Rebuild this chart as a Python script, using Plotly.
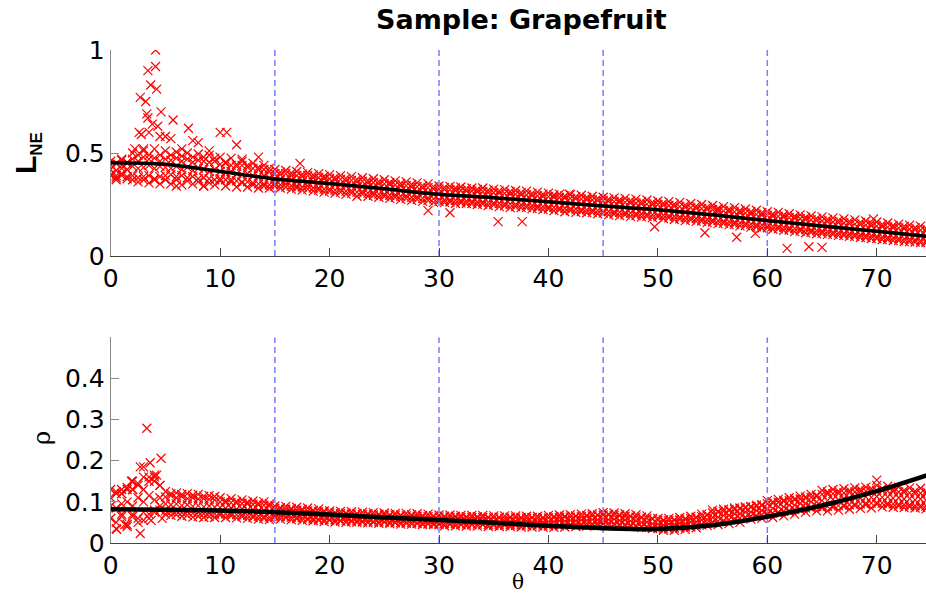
import plotly.graph_objects as go

# ---------------- data ----------------
theta = [0, 0.5, 1, 1.5, 2, 2.5, 3, 3.5, 4, 4.5,
         5, 5.5, 6, 6.5, 7, 7.5, 8, 8.5, 9, 9.5,
         10, 10.5, 11, 11.5, 12, 12.5, 13, 13.5, 14, 14.5,
         15, 15.5, 16, 16.5, 17, 17.5, 18, 18.5, 19, 19.5,
         20, 20.5, 21, 21.5, 22, 22.5, 23, 23.5, 24, 24.5,
         25, 25.5, 26, 26.5, 27, 27.5, 28, 28.5, 29, 29.5,
         30, 30.5, 31, 31.5, 32, 32.5, 33, 33.5, 34, 34.5,
         35, 35.5, 36, 36.5, 37, 37.5, 38, 38.5, 39, 39.5,
         40, 40.5, 41, 41.5, 42, 42.5, 43, 43.5, 44, 44.5,
         45, 45.5, 46, 46.5, 47, 47.5, 48, 48.5, 49, 49.5,
         50, 50.5, 51, 51.5, 52, 52.5, 53, 53.5, 54, 54.5,
         55, 55.5, 56, 56.5, 57, 57.5, 58, 58.5, 59, 59.5,
         60, 60.5, 61, 61.5, 62, 62.5, 63, 63.5, 64, 64.5,
         65, 65.5, 66, 66.5, 67, 67.5, 68, 68.5, 69, 69.5,
         70, 70.5, 71, 71.5, 72, 72.5, 73, 73.5, 74, 74.5,
         75]

# L_NE, five repeat measurements at each angle
L_run1 = [.445, .45, .44, .455, .47, .46, .48, .47, .475, .46,
          .47, .465, .475, .46, .47, .455, .465, .46, .455, .46,
          .445, .45, .44, .435, .44, .43, .425, .42, .42, .41,
          .40, .395, .40, .39, .39, .385, .39, .38, .38, .375,
          .375, .37, .372, .365, .367, .36, .362, .355, .357, .35,
          .35, .347, .345, .34, .342, .335, .337, .33, .332, .325,
          .325, .322, .322, .318, .318, .315, .315, .312, .312, .308,
          .308, .305, .304, .30, .30, .297, .296, .293, .292, .289,
          .288, .285, .284, .281, .28, .277, .276, .273, .272, .269,
          .268, .265, .264, .261, .26, .257, .256, .253, .252, .249,
          .25, .246, .245, .241, .24, .236, .235, .231, .23, .226,
          .225, .221, .219, .216, .214, .21, .208, .204, .202, .199,
          .197, .193, .192, .188, .186, .182, .181, .177, .175, .172,
          .17, .167, .165, .162, .16, .157, .155, .152, .15, .147,
          .145, .142, .14, .137, .135, .132, .13, .127, .125, .122,
          .12]
L_run2 = [.395, .39, .40, .385, .39, .38, .385, .39, .375, .385,
          .39, .395, .385, .39, .38, .385, .375, .38, .375, .37,
          .375, .37, .37, .365, .36, .36, .355, .35, .35, .345,
          .35, .345, .35, .34, .34, .335, .34, .33, .33, .325,
          .325, .32, .322, .315, .317, .31, .312, .305, .307, .30,
          .30, .295, .297, .29, .292, .285, .287, .28, .282, .277,
          .275, .272, .272, .27, .268, .266, .265, .262, .262, .26,
          .258, .256, .254, .252, .25, .248, .246, .244, .242, .24,
          .238, .236, .234, .232, .23, .228, .226, .224, .222, .22,
          .218, .216, .214, .212, .21, .208, .206, .204, .202, .20,
          .20, .197, .195, .192, .19, .187, .185, .182, .18, .177,
          .175, .172, .169, .167, .164, .161, .158, .155, .152, .15,
          .147, .144, .142, .139, .136, .133, .131, .128, .125, .123,
          .12, .118, .115, .113, .11, .108, .105, .103, .10, .098,
          .095, .093, .09, .088, .085, .083, .08, .078, .075, .073,
          .07]
L_run3 = [.42, .415, .425, .42, .435, .425, .43, .44, .425, .435,
          .43, .425, .435, .42, .43, .415, .425, .42, .41, .42,
          .41, .405, .41, .40, .395, .40, .39, .385, .39, .38,
          .375, .37, .368, .37, .36, .365, .358, .36, .352, .355,
          .35, .345, .347, .34, .342, .335, .337, .33, .332, .325,
          .325, .32, .322, .315, .317, .31, .312, .305, .307, .30,
          .30, .296, .298, .293, .294, .29, .291, .286, .288, .284,
          .283, .28, .28, .276, .276, .272, .272, .268, .268, .264,
          .263, .26, .26, .256, .256, .252, .252, .248, .248, .244,
          .243, .24, .24, .236, .236, .232, .232, .228, .228, .224,
          .225, .221, .22, .216, .215, .211, .21, .206, .205, .201,
          .20, .196, .195, .191, .19, .185, .184, .179, .178, .174,
          .172, .168, .167, .163, .161, .157, .156, .152, .15, .147,
          .145, .142, .14, .137, .135, .132, .13, .127, .125, .122,
          .12, .117, .115, .112, .11, .107, .105, .102, .10, .097,
          .095]
L_run4 = [.46, .38, .465, .375, .50, .36, .51, .355, .52, .35,
          .51, .35, .505, .345, .50, .35, .495, .34, .49, .345,
          .48, .34, .475, .335, .46, .335, .45, .33, .44, .33,
          .42, .33, .415, .325, .41, .32, .405, .315, .40, .31,
          .395, .305, .39, .30, .385, .29, .38, .29, .375, .285,
          .37, .28, .365, .275, .36, .27, .355, .265, .35, .26,
          .34, .26, .338, .255, .335, .255, .33, .25, .33, .245,
          .325, .24, .322, .235, .318, .235, .315, .23, .31, .225,
          .305, .22, .30, .215, .298, .212, .295, .21, .29, .205,
          .285, .20, .282, .196, .28, .192, .276, .19, .272, .186,
          .267, .182, .264, .177, .26, .172, .255, .168, .25, .162,
          .245, .157, .24, .152, .235, .146, .228, .14, .222, .135,
          .215, .13, .212, .125, .205, .118, .20, .113, .195, .108,
          .19, .105, .185, .10, .18, .095, .175, .09, .17, .085,
          .165, .08, .16, .075, .155, .07, .15, .068, .145, .065,
          .14]
L_run5 = [.39, .45, .39, .45, .37, .49, .37, .49, .37, .49,
          .37, .49, .37, .485, .365, .48, .36, .48, .355, .475,
          .365, .455, .36, .445, .355, .44, .345, .43, .34, .425,
          .34, .407, .335, .403, .33, .397, .325, .393, .32, .387,
          .315, .382, .31, .377, .305, .372, .30, .367, .295, .362,
          .29, .357, .285, .352, .28, .347, .275, .342, .27, .337,
          .265, .333, .262, .33, .258, .327, .255, .323, .252, .32,
          .248, .316, .244, .312, .24, .308, .236, .304, .232, .30,
          .228, .296, .224, .292, .22, .288, .216, .284, .212, .28,
          .208, .276, .204, .272, .20, .268, .196, .264, .192, .26,
          .19, .257, .185, .252, .18, .247, .175, .242, .17, .237,
          .165, .232, .159, .227, .154, .221, .148, .215, .142, .21,
          .137, .204, .132, .199, .126, .193, .121, .188, .115, .183,
          .11, .178, .105, .173, .10, .168, .095, .163, .09, .158,
          .085, .153, .08, .148, .075, .143, .07, .138, .065, .133,
          .06]
L_out_theta = [2.2, 2.6, 2.7, 2.8, 3.0, 3.2, 3.3, 3.4, 3.4, 3.5,
               3.65, 3.8, 4.1, 4.1, 4.2, 4.3, 4.5, 4.6, 5.0, 5.5,
               5.7, 6.5, 7.1, 7.5, 8.0, 9.0, 10.0, 10.6, 11.5, 12.0,
               13.5, 17.3, 1.0, 0.5, 6.0, 8.5,
               35.4, 37.6, 41.9, 49.7, 54.3, 55.3, 57.2, 58.9, 61.8, 63.8,
               65.0, 69.7, 29.0, 31.0]
L_out = [0.52, 0.60, 0.77, 0.59, 0.52, 0.75, 0.69, 0.67, 0.90, 0.60,
         0.83, 0.64, 1.0, 0.92, 0.81, 0.63, 0.58, 0.70, 0.58, 0.57,
         0.66, 0.52, 0.62, 0.56, 0.55, 0.51, 0.60, 0.60, 0.54, 0.47,
         0.48, 0.45, 0.47, 0.37, 0.34, 0.34,
         0.167, 0.167, 0.30, 0.142, 0.113, 0.22, 0.091, 0.11, 0.037, 0.045,
         0.042, 0.18, 0.22, 0.21]

# rho, five repeat measurements at each angle
rho_run1 = [.11, .125, .12, .13, .13, .14, .13, .15, .16, .14,
            .112, .115, .11, .113, .108, .11, .107, .108, .106, .105,
            .10, .099, .098, .097, .096, .095, .094, .093, .092, .09,
            .084, .083, .082, .081, .08, .079, .078, .077, .076, .075,
            .073, .072, .071, .071, .07, .07, .069, .069, .068, .068,
            .068, .067, .067, .066, .066, .066, .065, .065, .064, .064,
            .063, .063, .063, .063, .062, .062, .062, .062, .062, .061,
            .061, .061, .06, .061, .061, .06, .06, .061, .06, .06,
            .061, .062, .062, .063, .063, .064, .064, .065, .066, .067,
            .068, .068, .067, .066, .065, .064, .063, .061, .06, .058,
            .055, .054, .054, .055, .056, .057, .059, .061, .064, .067,
            .073, .075, .077, .079, .081, .083, .085, .087, .089, .091,
            .095, .097, .099, .101, .103, .105, .107, .109, .111, .113,
            .118, .119, .12, .121, .122, .123, .124, .125, .126, .127,
            .128, .127, .126, .125, .124, .123, .122, .121, .121, .12,
            .12]
rho_run2 = [.06, .05, .07, .045, .065, .06, .055, .07, .075, .08,
            .078, .076, .077, .074, .076, .072, .074, .071, .072, .07,
            .072, .071, .07, .069, .068, .067, .066, .065, .064, .063,
            .066, .065, .064, .063, .062, .061, .06, .059, .058, .057,
            .057, .056, .055, .055, .054, .054, .053, .053, .052, .052,
            .052, .051, .051, .05, .05, .05, .049, .049, .048, .048,
            .047, .047, .047, .047, .046, .046, .046, .046, .046, .045,
            .045, .045, .045, .045, .045, .044, .044, .044, .044, .044,
            .043, .044, .044, .045, .045, .046, .046, .047, .047, .048,
            .048, .048, .047, .046, .045, .044, .043, .041, .04, .038,
            .037, .036, .036, .037, .038, .039, .041, .043, .046, .049,
            .051, .053, .055, .057, .059, .061, .063, .065, .067, .069,
            .071, .073, .075, .077, .079, .081, .083, .085, .087, .089,
            .088, .089, .09, .091, .092, .093, .094, .095, .096, .097,
            .098, .097, .096, .095, .094, .093, .092, .091, .091, .09,
            .09]
rho_run3 = [.09, .085, .095, .10, .09, .11, .10, .115, .105, .11,
            .095, .093, .095, .091, .093, .089, .091, .088, .09, .087,
            .086, .084, .085, .082, .083, .08, .081, .078, .079, .076,
            .075, .073, .074, .071, .072, .069, .07, .067, .068, .065,
            .065, .063, .064, .062, .063, .061, .062, .06, .061, .059,
            .06, .058, .06, .057, .059, .057, .058, .056, .057, .055,
            .055, .054, .056, .054, .055, .053, .055, .053, .054, .052,
            .053, .052, .054, .052, .053, .051, .053, .051, .052, .051,
            .052, .052, .054, .053, .055, .054, .056, .055, .057, .056,
            .058, .057, .058, .055, .056, .053, .054, .05, .051, .047,
            .046, .044, .046, .045, .048, .047, .051, .051, .056, .057,
            .062, .063, .067, .067, .071, .071, .075, .075, .079, .079,
            .083, .084, .088, .088, .092, .092, .096, .096, .10, .10,
            .103, .103, .106, .105, .108, .107, .11, .109, .112, .111,
            .113, .111, .112, .109, .11, .107, .108, .105, .107, .104,
            .105]
rho_run4 = [.13, .035, .12, .04, .15, .05, .185, .06, .165, .09,
            .125, .067, .122, .065, .12, .063, .118, .062, .115, .062,
            .11, .062, .108, .061, .105, .06, .102, .058, .10, .057,
            .09, .058, .089, .057, .087, .055, .085, .054, .083, .052,
            .078, .051, .077, .05, .076, .05, .075, .049, .074, .048,
            .073, .047, .072, .046, .072, .046, .071, .045, .07, .044,
            .068, .042, .068, .042, .067, .041, .067, .041, .067, .04,
            .066, .04, .066, .04, .066, .039, .065, .039, .065, .039,
            .067, .038, .068, .039, .069, .04, .07, .041, .071, .042,
            .074, .043, .073, .042, .071, .04, .069, .038, .066, .035,
            .06, .031, .06, .031, .062, .033, .065, .037, .07, .043,
            .08, .045, .082, .047, .085, .05, .088, .058, .092, .06,
            .103, .062, .106, .066, .11, .07, .114, .075, .118, .078,
            .128, .078, .13, .08, .132, .082, .134, .084, .136, .085,
            .14, .088, .138, .087, .136, .086, .134, .085, .133, .083,
            .13]
rho_run5 = [.06, .12, .065, .135, .07, .145, .075, .16, .08, .14,
            .07, .12, .069, .118, .067, .116, .065, .114, .064, .113,
            .068, .103, .066, .101, .064, .099, .062, .097, .06, .095,
            .063, .086, .061, .084, .059, .082, .057, .08, .055, .078,
            .055, .074, .053, .073, .052, .072, .051, .071, .05, .07,
            .05, .069, .049, .068, .048, .068, .047, .067, .046, .066,
            .045, .065, .045, .065, .044, .064, .044, .064, .044, .063,
            .043, .063, .043, .063, .043, .062, .042, .062, .042, .062,
            .041, .064, .042, .065, .043, .066, .044, .067, .045, .068,
            .046, .07, .045, .068, .043, .066, .041, .063, .038, .06,
            .035, .056, .034, .057, .036, .059, .039, .063, .044, .069,
            .049, .077, .053, .081, .057, .085, .061, .089, .065, .093,
            .068, .10, .072, .104, .076, .108, .08, .112, .084, .116,
            .085, .124, .087, .126, .089, .128, .091, .13, .093, .132,
            .094, .132, .092, .13, .09, .128, .088, .126, .087, .125,
            .09]
rho_out_theta = [0.55, 1.3, 1.9, 2.7, 2.7, 3.3, 3.6, 3.7, 4.2, 4.6,
                 4.7, 1.0, 2.0, 3.0, 4.0, 70.0]
rho_out = [0.033, 0.045, 0.15, 0.023, 0.185, 0.279, 0.195, 0.055, 0.165, 0.206,
           0.06, 0.13, 0.13, 0.16, 0.15, 0.153]

# fitted curves
fit_theta = [0, 5, 10, 15, 20, 25, 30, 35, 40, 45, 50, 55, 60, 65, 70, 75]
fit_L = [0.453, 0.445, 0.41, 0.374, 0.352, 0.326, 0.30, 0.283, 0.263, 0.243,
         0.225, 0.20, 0.172, 0.146, 0.12, 0.093]
fit_rho = [0.082, 0.081, 0.079, 0.075, 0.069, 0.062, 0.056, 0.049, 0.042, 0.036,
           0.034, 0.043, 0.064, 0.091, 0.126, 0.168]

cut_angles = [15, 30, 45, 60]
x_ticks = [0, 10, 20, 30, 40, 50, 60, 70]
L_ticks = [0, 0.5, 1]
L_ticktext = ["0", "0.5", "1"]
rho_ticks = [0, 0.1, 0.2, 0.3, 0.4]
rho_ticktext = ["0", "0.1", "0.2", "0.3", "0.4"]
L_range = [0, 1]
rho_range = [0, 0.5]

# ---------------- figure ----------------
W, H = 926, 595
fig = go.Figure()

marker = dict(symbol="x-thin", size=9, color="rgb(255,0,0)",
              line=dict(width=1.2, color="rgb(255,0,0)"))

L_x = theta * 5 + L_out_theta
L_y = L_run1 + L_run2 + L_run3 + L_run4 + L_run5 + L_out
r_x = theta * 5 + rho_out_theta
r_y = rho_run1 + rho_run2 + rho_run3 + rho_run4 + rho_run5 + rho_out

fig.add_trace(go.Scatter(x=L_x, y=L_y, mode="markers", marker=marker,
                         xaxis="x", yaxis="y", showlegend=False))
fig.add_trace(go.Scatter(x=r_x, y=r_y, mode="markers", marker=marker,
                         xaxis="x2", yaxis="y2", showlegend=False))

for c in cut_angles:
    fig.add_trace(go.Scatter(x=[c, c], y=L_range, mode="lines",
                             line=dict(color="#7a7aff", width=1.5, dash="6px,4px"),
                             xaxis="x", yaxis="y", showlegend=False))
    fig.add_trace(go.Scatter(x=[c, c], y=rho_range, mode="lines",
                             line=dict(color="#7a7aff", width=1.5, dash="6px,4px"),
                             xaxis="x2", yaxis="y2", showlegend=False))

fig.add_trace(go.Scatter(x=fit_theta, y=fit_L, mode="lines",
                         line=dict(color="black", width=3.5, shape="spline"),
                         xaxis="x", yaxis="y", showlegend=False))
fig.add_trace(go.Scatter(x=fit_theta, y=fit_rho, mode="lines",
                         line=dict(color="black", width=4.5, shape="spline"),
                         xaxis="x2", yaxis="y2", showlegend=False))

tickfont = dict(family="DejaVu Sans", size=25, color="black")
x_left = 110.7 / W
xcommon = dict(domain=[x_left, 1], range=[0, 74.5], tickvals=x_ticks,
               ticks="inside", ticklen=8, tickcolor="#444", showline=True,
               linecolor="#444", linewidth=1, showgrid=False, zeroline=False,
               tickfont=tickfont, automargin=False)
ycommon = dict(ticks="inside", ticklen=8, tickcolor="#888", showline=True,
               linecolor="#888", linewidth=1, showgrid=False, zeroline=False,
               tickfont=tickfont, automargin=False)

fig.update_layout(
    width=W, height=H,
    margin=dict(l=0, r=0, t=0, b=0),
    paper_bgcolor="white", plot_bgcolor="white",
    xaxis=dict(anchor="y", **xcommon),
    yaxis=dict(anchor="x", domain=[(H - 256) / H, (H - 50) / H], range=L_range,
               tickvals=L_ticks, ticktext=L_ticktext, **ycommon),
    xaxis2=dict(anchor="y2", **xcommon),
    yaxis2=dict(anchor="x2", domain=[(H - 543) / H, (H - 337.3) / H], range=rho_range,
                tickvals=rho_ticks, ticktext=rho_ticktext, **ycommon),
    annotations=[
        dict(text="<b>Sample: Grapefruit</b>", x=521 / W, y=(H - 19) / H,
             xref="paper", yref="paper", showarrow=False, xanchor="center", yanchor="middle",
             font=dict(family="DejaVu Sans", size=27, color="black")),
        dict(text="<b>L<sub><span style='font-size:17px'>NE</span></sub></b>", x=28 / W, y=(H - 153) / H,
             xref="paper", yref="paper", showarrow=False, textangle=-90,
             xanchor="center", yanchor="middle",
             font=dict(family="Liberation Sans", size=30, color="black")),
        dict(text="ρ", x=42 / W, y=(H - 438) / H,
             xref="paper", yref="paper", showarrow=False, textangle=-90,
             xanchor="center", yanchor="middle",
             font=dict(family="DejaVu Serif", size=24, color="black")),
        dict(text="θ", x=518 / W, y=(H - 582) / H,
             xref="paper", yref="paper", showarrow=False,
             xanchor="center", yanchor="middle",
             font=dict(family="DejaVu Serif", size=20, color="black")),
    ],
)

fig.write_html("out.html")
